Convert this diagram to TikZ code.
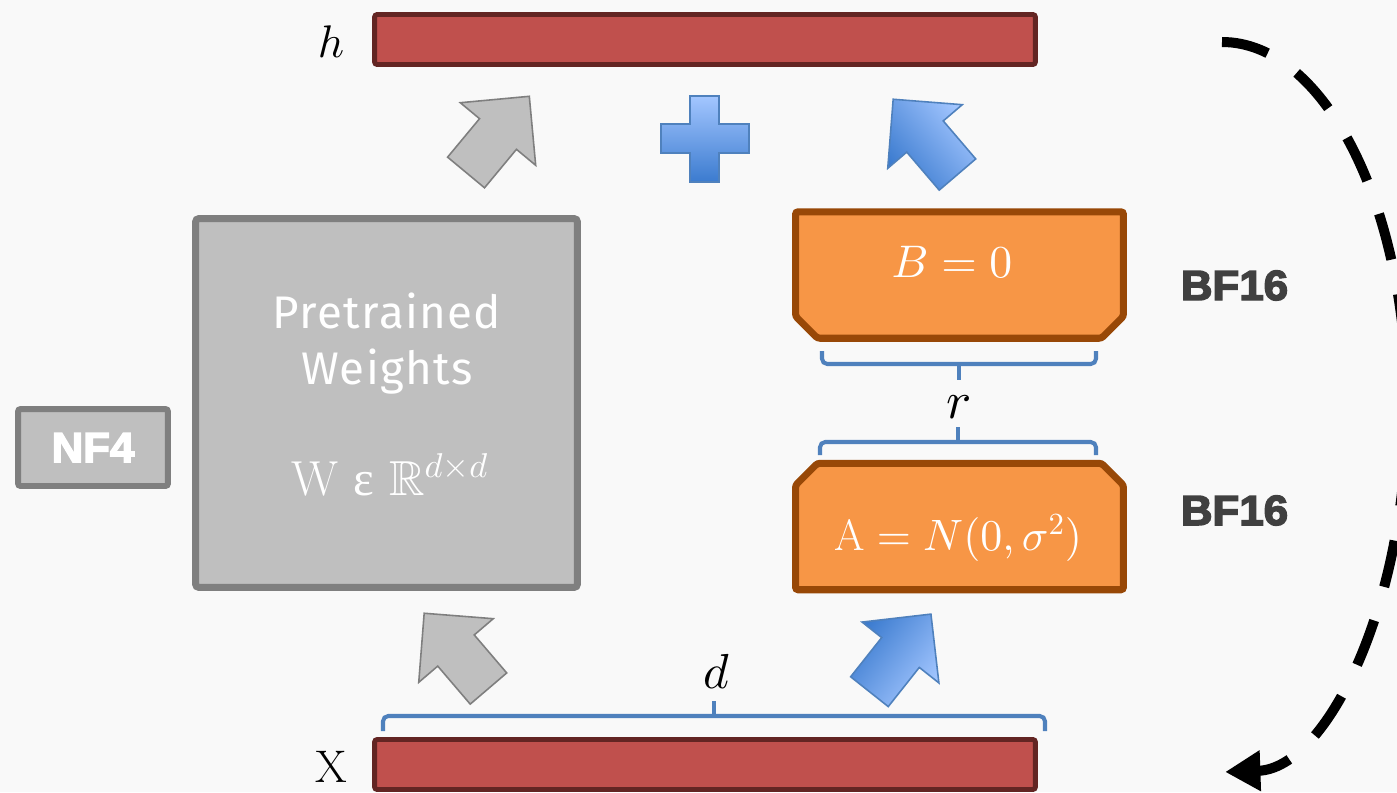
\documentclass[tikz,border=0pt]{standalone}
\usepackage{amsmath,amssymb}
\usepackage{fontspec}
\usepackage{xcolor}
\usepackage{tikz}
\usetikzlibrary{arrows.meta, positioning, calc}

\DeclareFontShape{OML}{cmm}{m}{it}{<-> cmmi10}{}
\DeclareFontShape{OT1}{cmr}{m}{n}{<-> cmr10}{}
\DeclareFontShape{OMS}{cmsy}{m}{n}{<-> cmsy10}{}
\DeclareFontFamily{U}{msb}{}
\DeclareFontShape{U}{msb}{m}{n}{<-> msbm10}{}

\newfontfamily\weightfont{Fira Sans}[LetterSpace=3]
\newfontfamily\greekserif{Liberation Serif}
\newfontfamily\heavyfont{Liberation Sans}[BoldFeatures={FakeBold=3.5, FakeStretch=1.04}]

\definecolor{barred}{HTML}{C0504D}
\definecolor{bardark}{HTML}{632523}
\definecolor{wgray}{HTML}{BFBFBF}
\definecolor{wgrayline}{HTML}{7F7F7F}
\definecolor{lorange}{HTML}{F79646}
\definecolor{lorangeline}{HTML}{984807}
\definecolor{braceblue}{HTML}{4F81BD}
\definecolor{arrlight}{HTML}{A3C6FF}
\definecolor{arrdark}{HTML}{3B7BCF}
\definecolor{precgray}{HTML}{404040}
\definecolor{bgcolor}{HTML}{F9F9F9}

\tikzset{
    pics/fatarrow/.style={code={
        \path[#1] (-50,-24) -- (0,-24) -- (0,-49) -- (49,0) -- (0,49) -- (0,24) -- (-50,24) -- cycle;
    }}
}

\begin{document}
\begin{tikzpicture}[
    x=0.02cm, y=-0.02cm,
    bar/.style={rectangle, rounded corners=1.5pt, draw=bardark, fill=barred, line width=2.8pt, minimum width=13.22cm, minimum height=1.0cm, inner sep=0pt},
    weights/.style={rectangle, rounded corners=2pt, draw=wgrayline, fill=wgray, line width=4pt, minimum width=7.64cm, minimum height=7.38cm, inner sep=0pt},
    tag/.style={rectangle, rounded corners=1.5pt, draw=wgrayline, fill=wgray, line width=3.4pt, minimum width=3.0cm, minimum height=1.54cm, inner sep=0pt, text=white, font=\heavyfont\bfseries\fontsize{24}{28}\selectfont},
    lorabox/.style={rectangle, minimum width=6.56cm, minimum height=2.53cm, inner sep=0pt, outer sep=0pt},
    lorashape/.style={draw=lorangeline, fill=lorange, line width=4pt, rounded corners=1.5pt},
    prec/.style={text=precgray, font=\heavyfont\bfseries\fontsize{24}{28}\selectfont},
    mlabel/.style={font=\fontsize{26}{30}\selectfont},
    wtext/.style={text=white, align=center, font=\weightfont\fontsize{26}{31.9}\selectfont},
    brace/.style={draw=braceblue, line width=2.3pt, rounded corners=3pt},
    graypiece/.style={draw=wgrayline, fill=wgray, line width=0.9pt},
    bluepiece/.style={draw=braceblue, line width=0.9pt, top color=arrlight, bottom color=arrdark},
    cyclearrow/.style={line width=5.7pt, dash pattern=on 27pt off 20pt, -{Triangle[length=20pt, width=22pt]}}
]

% background
\useasboundingbox (0,0) rectangle (1397,792);
\fill[bgcolor] (0,0) rectangle (1397,792);

% h and X
\node[bar] (hbar) at (705,39.5) {};
\node[bar] (xbar) at (705,764.5) {};
\node[mlabel, anchor=base] (hlab) at (331,57) {$h$};
\node[mlabel, anchor=base] (xlab) at (331,782) {$\mathrm{X}$};

% pretrained weights
\node[weights] (wbox) at (386.5,403) {};
\node[wtext] (wname) at (387,344) {Pretrained\\Weights};
\node[mlabel, text=white, anchor=base, font=\fontsize{28}{32}\selectfont] (wdim) at (390,495) {$\mathrm{W}\ \text{\greekserif ε}\ \mathbb{R}^{d\times d}$};
\node[tag] (nf4) at (93,447.5) {NF4};

% LoRA matrices
\node[lorabox] (bmat) at (959.5,275) {};
\draw[lorashape] (bmat.north west) -- (bmat.north east) -- ([yshift=12.5pt]bmat.south east) -- ([xshift=-12.5pt]bmat.south east)
    -- ([xshift=12.5pt]bmat.south west) -- ([yshift=12.5pt]bmat.south west) -- cycle;
\node[lorabox] (amat) at (959.5,526.5) {};
\draw[lorashape] (amat.south west) -- (amat.south east) -- ([yshift=-12.5pt]amat.north east) -- ([xshift=-12.5pt]amat.north east)
    -- ([xshift=12.5pt]amat.north west) -- ([yshift=-12.5pt]amat.north west) -- cycle;
\node[mlabel, text=white, anchor=base] (bval) at (952,277) {$B = 0$};
\node[mlabel, text=white, anchor=base, font=\fontsize{25}{30}\selectfont] (aval) at (958,550) {$\mathrm{A} = N(0,\sigma^2)$};
\node[prec, anchor=base] (bprec) at (1234.5,300) {BF16};
\node[prec, anchor=base] (aprec) at (1234.5,525) {BF16};

% braces
\draw[brace] (822,351) -- (822,364) -- (1096,364) -- (1096,351);
\draw[brace] (959,364) -- (959,380);
\draw[brace] (820,455) -- (820,442) -- (1096,442) -- (1096,455);
\draw[brace] (958,442) -- (958,427);
\node[mlabel, anchor=base, font=\fontsize{30}{34}\selectfont] (rlab) at (959,418) {$r$};
\draw[brace] (383,731) -- (383,716) -- (1045,716) -- (1045,731);
\draw[brace] (714,716) -- (714,701);
\node[mlabel, anchor=base, font=\fontsize{28}{32}\selectfont] (dlab) at (716,688) {$d$};

% block arrows
\pic[rotate=50.3] at (498,134) {fatarrow=graypiece};
\pic[rotate=130.5] at (456,650.5) {fatarrow=graypiece};
\pic[rotate=130.5] at (925,136.5) {fatarrow={bluepiece, shading angle=-50}};
\pic[rotate=51.6] at (900.5,652.5) {fatarrow={bluepiece, shading angle=-128}};

% plus
\path[bluepiece] (690,96) -- (719,96) -- (719,124) -- (749,124) -- (749,153) -- (719,153) -- (719,182) -- (690,182) -- (690,153) -- (661,153) -- (661,124) -- (690,124) -- cycle;

% loop
\coordinate (loopstart) at (1222,42);
\draw[cyclearrow] (loopstart) arc[start angle=-90, end angle=89, x radius=185, y radius=365];

\end{tikzpicture}
\end{document}
